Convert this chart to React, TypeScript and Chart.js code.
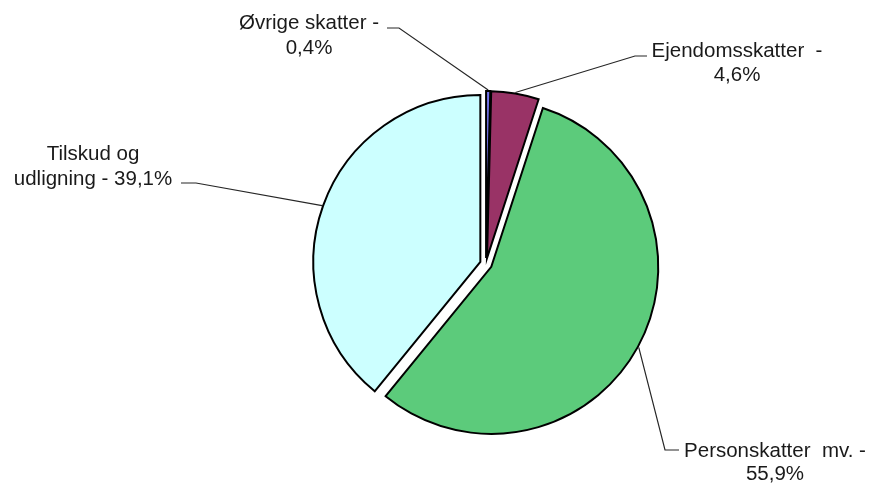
import React, { useEffect, useRef } from "react";
import { Chart, registerables } from "chart.js";

Chart.register(...registerables);

// ---- data ----
const categories = ["Øvrige skatter", "Ejendomsskatter", "Personskatter mv.", "Tilskud og udligning"];
const shares = [0.4, 4.6, 55.9, 39.1];
const labelTexts = [
  ["Øvrige skatter -", "0,4%"],
  ["Ejendomsskatter  -", "4,6%"],
  ["Personskatter  mv. -", "55,9%"],
  ["Tilskud og", "udligning - 39,1%"],
];

// ---- styles / layout ----
const sliceColors = ["#7474EC", "#993366", "#5CCB7B", "#CCFFFF"];
const EXPLODE = 6;
const FONT = '20.5px "Liberation Sans", Arial, sans-serif';
const labelLayout = [
  { cx: 309, base: [29, 54], lineY: 28, endX: 387, elbowX: 399 },
  { cx: 737, base: [57, 81], lineY: 56, endX: 647, elbowX: 635 },
  { cx: 775, base: [457, 480], lineY: 450, endX: 679, elbowX: 665 },
  { cx: 93, base: [160, 185], lineY: 183, endX: 181, elbowX: 196 },
];

const explodePlugin = {
  id: "explodeSlices",
  afterDatasetsUpdate(chart: any) {
    const meta = chart.getDatasetMeta(0);
    meta.data.forEach((arc: any) => {
      const mid = (arc.startAngle + arc.endAngle) / 2;
      arc.x += Math.cos(mid) * EXPLODE;
      arc.y += Math.sin(mid) * EXPLODE;
    });
  },
};

const labelPlugin = {
  id: "sliceLabels",
  afterDatasetsDraw(chart: any) {
    const ctx = chart.ctx;
    const meta = chart.getDatasetMeta(0);
    ctx.save();
    meta.data.forEach((arc: any, i: number) => {
      const L = labelLayout[i];
      const mid = (arc.startAngle + arc.endAngle) / 2;
      const r = arc.outerRadius + 1;
      const sx = arc.x + Math.cos(mid) * r;
      const sy = arc.y + Math.sin(mid) * r;
      ctx.strokeStyle = "#262626";
      ctx.lineWidth = 1.2;
      ctx.beginPath();
      ctx.moveTo(sx, sy);
      ctx.lineTo(L.elbowX, L.lineY);
      ctx.lineTo(L.endX, L.lineY);
      ctx.stroke();
      ctx.fillStyle = "#1a1a1a";
      ctx.font = FONT;
      ctx.textAlign = "center";
      ctx.textBaseline = "alphabetic";
      labelTexts[i].forEach((t, j) => ctx.fillText(t, L.cx, L.base[j]));
    });
    ctx.restore();
  },
};

export default function App() {
  const ref = useRef<HTMLCanvasElement>(null);
  useEffect(() => {
    if (!ref.current) return;
    const chart = new Chart(ref.current, {
      type: "pie",
      data: {
        labels: categories,
        datasets: [
          {
            data: shares,
            backgroundColor: sliceColors,
            borderColor: "#000000",
            borderWidth: 2,
            borderJoinStyle: "miter",
            radius: 167,
          } as any,
        ],
      },
      options: {
        responsive: false,
        animation: false,
        rotation: 0,
        layout: { padding: { left: 103, top: 43, right: 0, bottom: 0 } },
        plugins: {
          legend: { display: false },
          tooltip: { enabled: false },
        },
      },
      plugins: [explodePlugin, labelPlugin],
    });
    return () => chart.destroy();
  }, []);
  return (
    <div style={{ position: "fixed", left: 0, top: 0, width: 869, height: 485, background: "#fff" }}>
      <canvas ref={ref} width={869} height={485} style={{ display: "block" }} />
    </div>
  );
}
